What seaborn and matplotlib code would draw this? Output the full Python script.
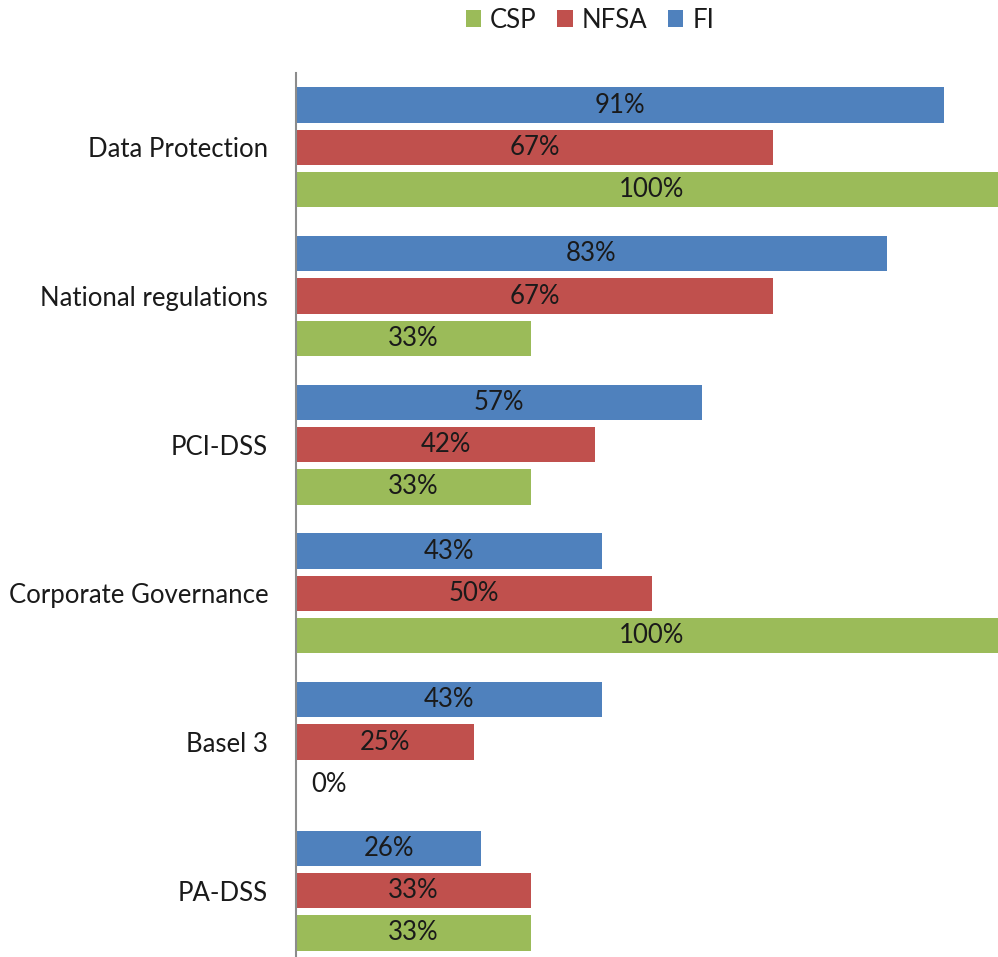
import matplotlib
matplotlib.use("Agg")
import matplotlib.pyplot as plt
import seaborn as sns
import pandas as pd
from matplotlib.patches import Patch

categories = ["Data Protection", "National regulations", "PCI-DSS",
              "Corporate Governance", "Basel 3", "PA-DSS"]
fi = [91, 83, 57, 43, 43, 26]
nfsa = [67, 67, 42, 50, 25, 33]
csp = [100, 33, 33, 100, 0, 33]
series = ["FI", "NFSA", "CSP"]
legend_order = ["CSP", "NFSA", "FI"]
colors = {"FI": "#4F81BD", "NFSA": "#C0504D", "CSP": "#9BBB59"}

values = {"FI": fi, "NFSA": nfsa, "CSP": csp}
rows = []
for s in series:
    for c, v in zip(categories, values[s]):
        rows.append({"category": c, "series": s, "value": v})
df = pd.DataFrame(rows)

sns.set_theme(style="white")
plt.rcParams["font.family"] = ["Lato", "DejaVu Sans"]
FS = 18.5
TXT = "#1a1a1a"

fig = plt.figure(figsize=(9.98, 9.57), dpi=100)
ax = fig.add_axes([296 / 998, -8 / 957, 712 / 998, 892 / 957])

sns.barplot(data=df, y="category", x="value", hue="series",
            order=categories, hue_order=series, palette=colors,
            saturation=1, orient="h", width=0.8535, gap=0.17, linewidth=0,
            legend=False, ax=ax)

ax.set_xlim(0, 100)
ax.set_ylim(5.5, -0.5)
ax.set_xlabel("")
ax.set_ylabel("")
ax.set_xticks([])
for sp in ["top", "right", "bottom"]:
    ax.spines[sp].set_visible(False)
ax.spines["left"].set_color("#8c8c8c")
ax.spines["left"].set_linewidth(1.5)
ax.tick_params(axis="y", length=0, pad=20, labelsize=FS, labelcolor=TXT)
for lbl in ax.get_yticklabels():
    lbl.set_va("center_baseline")

for cont in ax.containers:
    labels = [f"{p.get_width():.0f}%" if p.get_width() > 0 else "" for p in cont]
    ax.bar_label(cont, labels=labels, label_type="center", fontsize=FS, color=TXT)
    for p in cont:
        if p.get_width() == 0:
            ax.annotate("0%", xy=(0, p.get_y() + p.get_height() / 2),
                        xytext=(11, 0), textcoords="offset points",
                        ha="left", va="center", fontsize=FS, color=TXT)

handles = [Patch(facecolor=colors[s], edgecolor="none") for s in legend_order]
fig.legend(handles=handles, labels=legend_order, loc="center",
           bbox_to_anchor=(590 / 998, 1 - 20 / 957), ncol=3, frameon=False,
           fontsize=FS, handlelength=0.6, handleheight=0.6,
           handletextpad=0.35, columnspacing=0.8, labelcolor=TXT)

fig.savefig("out.png", dpi=100)
